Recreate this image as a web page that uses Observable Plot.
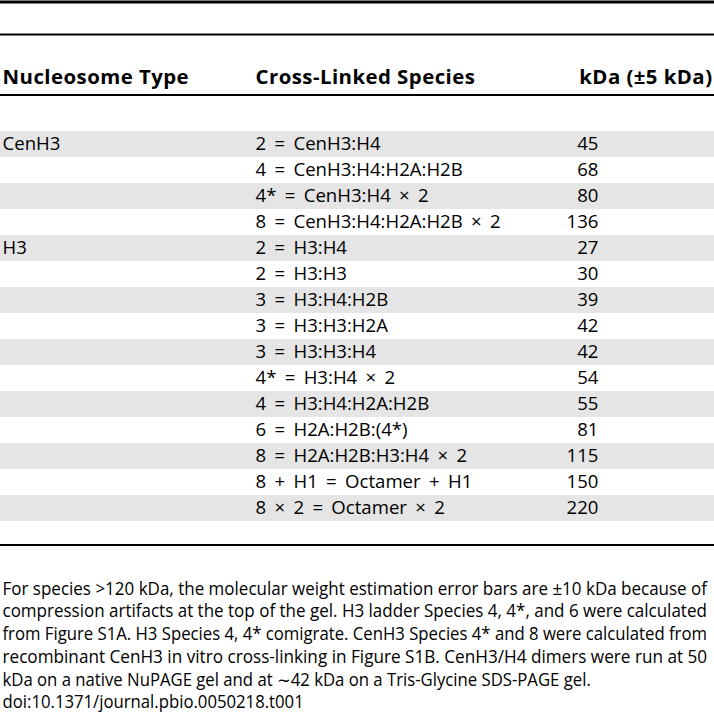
<!DOCTYPE html>
<html><head><meta charset="utf-8">
<script src="https://cdn.jsdelivr.net/npm/d3@7"></script>
<script src="https://cdn.jsdelivr.net/npm/@observablehq/plot@0.6"></script>
<style>
html,body{margin:0;padding:0;background:#fff;}
#chart svg{display:block;}
</style></head><body><div id="chart"></div>
<script>
// ---- data ----
const nucleosomeTypes = ["CenH3","","","","H3","","","","","","","","","",""];
const crossLinkedSpecies = [
  "2 = CenH3:H4",
  "4 = CenH3:H4:H2A:H2B",
  "4* = CenH3:H4 × 2",
  "8 = CenH3:H4:H2A:H2B × 2",
  "2 = H3:H4",
  "2 = H3:H3",
  "3 = H3:H4:H2B",
  "3 = H3:H3:H2A",
  "3 = H3:H3:H4",
  "4* = H3:H4 × 2",
  "4 = H3:H4:H2A:H2B",
  "6 = H2A:H2B:(4*)",
  "8 = H2A:H2B:H3:H4 × 2",
  "8 + H1 = Octamer + H1",
  "8 × 2 = Octamer × 2"
];
const kdaValues = [45, 68, 80, 136, 27, 30, 39, 42, 42, 54, 55, 81, 115, 150, 220];
const headerLabels = ["Nucleosome Type", "Cross-Linked Species", "kDa (±5 kDa)"];
const footnoteLines = [
  "For species >120 kDa, the molecular weight estimation error bars are ±10 kDa because of",
  "compression artifacts at the top of the gel. H3 ladder Species 4, 4*, and 6 were calculated",
  "from Figure S1A. H3 Species 4, 4* comigrate. CenH3 Species 4* and 8 were calculated from",
  "recombinant CenH3 in vitro cross-linking in Figure S1B. CenH3/H4 dimers were run at 50",
  "kDa on a native NuPAGE gel and at ∼42 kDa on a Tris-Glycine SDS-PAGE gel.",
  "doi:10.1371/journal.pbio.0050218.t001"
];

// ---- layout ----
const W = 714, H = 717;
const fontName = "Open Sans";
const font = "'Open Sans', 'Noto Sans', sans-serif";
const bodySize = 18.6;
const headSize = 20.4;
const footSize = 17.4;
const L = {
  top: 125, bottom: 526,
  typeX: 2, speciesX: 255, kdaRight: 598, headerRight: 712,
  headerBaseline: 83, footBaseline: 594,
  footLineH: 22.75, justifiedLines: 4, footWidth: 709
};

// the printed face is narrower than Open Sans: condense caption lines horizontally
const ctx = document.createElement("canvas").getContext("2d");
function textWidth(t, size) { ctx.font = `${size}px '${fontName}'`; return ctx.measureText(t).width; }
const lineScale = footnoteLines.map(t => (L.footWidth - 4) / textWidth(t, footSize));
const condense = Math.min(1, ...lineScale.slice(0, L.justifiedLines));

const rows = crossLinkedSpecies.map((s, i) => ({
  i, type: nucleosomeTypes[i], species: s, kda: String(kdaValues[i])
}));
const stripes = rows.filter(d => d.i % 2 === 0);

const headerDy = L.headerBaseline - L.top;
const footDy0 = L.footBaseline - L.bottom - 0.71 * footSize;

const headerOpts = {text: d => d, frameAnchor: "top-left", dy: headerDy, lineAnchor: "bottom", fontWeight: "bold", fontSize: headSize, fill: "#000", ariaLabel: () => "header"};

const plot = Plot.plot({
  width: W, height: H,
  marginTop: L.top, marginBottom: H - L.bottom, marginLeft: 0, marginRight: 0,
  style: {fontFamily: font, fontSize: bodySize + "px", color: "#000", background: "#fff"},
  y: {type: "band", domain: rows.map(d => d.i), padding: 0, axis: null},
  marks: [
    Plot.cell(stripes, {y: "i", fill: "#e5e5e5", inset: 0}),
    // rules
    Plot.frame({anchor: "top", dy: -123.5, strokeWidth: 3, stroke: "#000"}),
    Plot.frame({anchor: "top", dy: -91, strokeWidth: 2, stroke: "#000"}),
    Plot.frame({anchor: "top", dy: -30.5, strokeWidth: 2, stroke: "#000"}),
    Plot.frame({anchor: "bottom", dy: 18.5, strokeWidth: 2, stroke: "#000"}),
    // header
    Plot.text([headerLabels[0]], {...headerOpts, dx: L.typeX, textAnchor: "start"}),
    Plot.text([headerLabels[1]], {...headerOpts, dx: L.speciesX, textAnchor: "start"}),
    Plot.text([headerLabels[2]], {...headerOpts, dx: L.headerRight, textAnchor: "end"}),
    // body
    Plot.text(rows, {y: "i", text: "type", frameAnchor: "left", dx: L.typeX, textAnchor: "start", fill: "#000"}),
    Plot.text(rows, {y: "i", text: "species", frameAnchor: "left", dx: L.speciesX, textAnchor: "start", fill: "#000", ariaLabel: () => "species"}),
    Plot.text(rows, {y: "i", text: "kda", frameAnchor: "left", dx: L.kdaRight, textAnchor: "end", fill: "#000"}),
    // footnote, one text element per printed line
    ...footnoteLines.map((line, k) => Plot.text([line], {
      text: d => d, frameAnchor: "bottom-left", dx: L.typeX, dy: footDy0 + k * L.footLineH,
      textAnchor: "start", lineAnchor: "top", fontSize: footSize, fill: "#000", ariaLabel: () => "footnote-" + k
    }))
  ]
});
document.getElementById("chart").appendChild(plot);

d3.select(plot).selectAll('text[aria-label="header"]').style("letter-spacing", "0.45px");
d3.select(plot).selectAll('text[aria-label="species"]').style("word-spacing", "3.5px");
footnoteLines.forEach((line, k) => {
  const s = k < L.justifiedLines ? lineScale[k] : condense;
  d3.select(plot).selectAll(`text[aria-label="footnote-${k}"]`).each(function() {
    const t = this.getAttribute("transform") || "";
    this.setAttribute("transform", `${t} scale(${s.toFixed(4)},1)`);
  });
});
</script></body></html>
